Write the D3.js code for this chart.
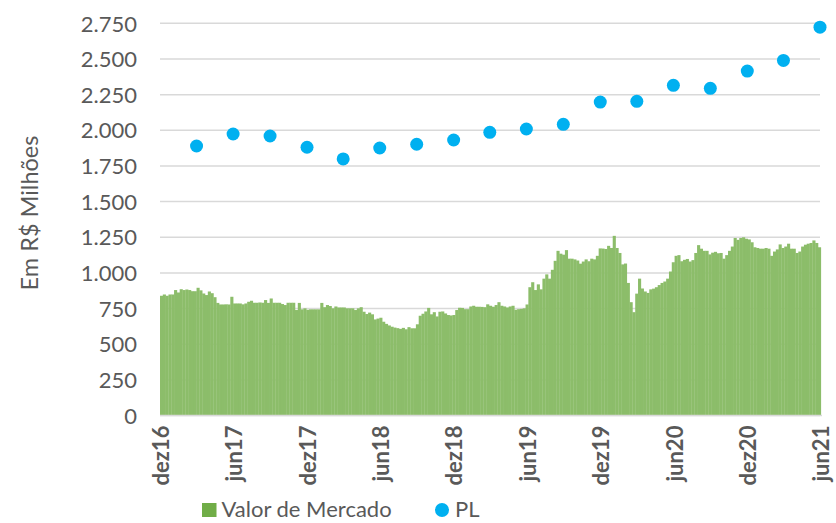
<!DOCTYPE html>
<html><head><meta charset="utf-8">
<script src="https://cdn.jsdelivr.net/npm/d3@7"></script>
<style>body{margin:0;background:#fff}svg{display:block}</style>
</head><body><svg id="c" width="836" height="523"></svg>
<script>
// Valor de Mercado: weekly values (R$ milhões), starting 2016-12-30
const mvStart = "2016-12-30";
const marketValue = [
840,849,840,849,849,880,863,886,880,884,880,872,872,896,878,856,845,870,858,830,
790,779,779,780,779,833,786,786,786,780,786,798,805,791,791,793,791,810,790,821,
791,791,791,782,775,791,791,791,740,790,745,752,742,745,745,745,745,790,760,775,
768,752,765,758,758,758,752,752,752,740,752,760,728,712,722,710,674,680,686,658,
643,632,623,617,613,608,615,605,620,612,612,640,700,714,730,755,710,725,695,728,
730,716,705,702,705,740,756,755,746,746,765,770,763,763,762,760,780,770,763,775,
795,770,765,758,765,770,742,746,748,752,779,900,935,880,920,885,960,990,960,1022,
1085,1155,1135,1128,1160,1100,1100,1095,1087,1065,1080,1095,1082,1100,1095,1120,1172,1171,1168,1190,
1175,1260,1175,1140,1060,1066,930,795,725,855,960,891,870,860,885,890,900,915,930,940,
960,1010,1075,1120,1125,1082,1092,1098,1080,1090,1140,1195,1170,1155,1155,1130,1142,1148,1138,1140,
1100,1125,1155,1185,1245,1232,1245,1250,1240,1235,1215,1180,1175,1170,1170,1175,1170,1120,1150,1165,
1200,1175,1185,1205,1170,1170,1140,1150,1185,1198,1205,1210,1228,1210,1180
];
// PL: quarterly
const plDates = ["2017-03-31","2017-06-30","2017-09-30","2017-12-31","2018-03-31","2018-06-30",
"2018-09-30","2018-12-31","2019-03-31","2019-06-30","2019-09-30","2019-12-31",
"2020-03-31","2020-06-30","2020-09-30","2020-12-31","2021-03-31","2021-06-30"];
const plValues = [1890,1974,1960,1881,1799,1876,1902,1932,1986,2009,2042,2198,2203,2315,2294,2415,2490,2723];
// Axis ticks
const xTickDates = ["2016-12-30","2017-06-30","2017-12-30","2018-06-30","2018-12-30","2019-06-30",
"2019-12-30","2020-06-30","2020-12-30","2021-06-30"];
const xTickLabels = ["dez16","jun17","dez17","jun18","dez18","jun19","dez19","jun20","dez20","jun21"];
const yTicks = [0,250,500,750,1000,1250,1500,1750,2000,2250,2500,2750];
const seriesNames = ["Valor de Mercado","PL"];

const parse = d3.utcParse("%Y-%m-%d");
const svg = d3.select("#c");
const font = "Lato, 'Open Sans', sans-serif";
const grey = "#595959";

const x = d3.scaleUtc().domain([parse("2016-12-30"), parse("2021-06-30")]).range([160, 820]);
const y = d3.scaleLinear().domain([0, 2750]).range([415.6, 23.3]);
const loc = d3.formatLocale({decimal: ",", thousands: ".", grouping: [3], currency: ["R$", ""]});
const fmt = loc.format(",d");

// gridlines
svg.append("g").selectAll("line").data(yTicks).join("line")
  .attr("x1", 160).attr("x2", 820)
  .attr("y1", d => y(d)).attr("y2", d => y(d))
  .attr("stroke", "#d9d9d9").attr("stroke-width", 1.5);

// bars
const start = parse(mvStart);
const mv = marketValue.map((v, i) => ({d: d3.utcDay.offset(start, i * 7), v}));
const step = x(d3.utcDay.offset(start, 7)) - x(start);
svg.append("g").selectAll("rect").data(mv).join("rect")
  .attr("x", d => x(d.d)).attr("width", step + 0.3)
  .attr("y", d => y(d.v)).attr("height", d => y(0) - y(d.v))
  .attr("fill", "#8cbd6a");

// baseline
svg.append("line").attr("x1", 160).attr("x2", 822).attr("y1", y(0)).attr("y2", y(0))
  .attr("stroke", "#d9d9d9").attr("stroke-width", 1.5);

// PL dots
svg.append("g").selectAll("circle").data(plDates.map((d, i) => ({d: parse(d), v: plValues[i]})))
  .join("circle").attr("cx", d => x(d.d)).attr("cy", d => y(d.v)).attr("r", 6.5)
  .attr("fill", "#00b0f0");

// y axis labels
const yAxis = d3.axisLeft(y).tickValues(yTicks).tickFormat(fmt).tickSize(0).tickPadding(0);
const gy = svg.append("g").attr("transform", "translate(137,0)").call(yAxis);
gy.select(".domain").remove();
gy.selectAll("text").attr("fill", grey).style("font-family", font).style("font-size", "22px").attr("dy", "0.35em");

// x axis labels
const xAxis = d3.axisBottom(x).tickValues(xTickDates.map(parse))
  .tickFormat((d, i) => xTickLabels[i]).tickSize(0);
const gx = svg.append("g").attr("transform", `translate(0,${y(0)})`).call(xAxis);
gx.select(".domain").remove();
gx.selectAll("text").attr("fill", grey).style("font-family", font).style("font-size", "22px")
  .style("font-weight", "bold").attr("text-anchor", "end")
  .attr("transform", "rotate(-90)").attr("x", -10).attr("y", 1).attr("dy", "0.35em");

// y title
svg.append("text").attr("transform", "translate(38,213) rotate(-90)")
  .attr("text-anchor", "middle").attr("fill", grey).style("font-family", font).style("font-size", "23.5px")
  .text("Em R$ Milhões");

// legend
const lg = svg.append("g");
lg.append("rect").attr("x", 202).attr("y", 503).attr("width", 14.5).attr("height", 14).attr("fill", "#70ad47");
lg.append("text").attr("x", 221.5).attr("y", 509).attr("dy", "0.35em").attr("fill", grey)
  .style("font-family", font).style("font-size", "22px").text(seriesNames[0]);
lg.append("circle").attr("cx", 442).attr("cy", 510).attr("r", 7).attr("fill", "#00b0f0");
lg.append("text").attr("x", 455).attr("y", 509).attr("dy", "0.35em").attr("fill", grey)
  .style("font-family", font).style("font-size", "22px").text(seriesNames[1]);
</script></body></html>
